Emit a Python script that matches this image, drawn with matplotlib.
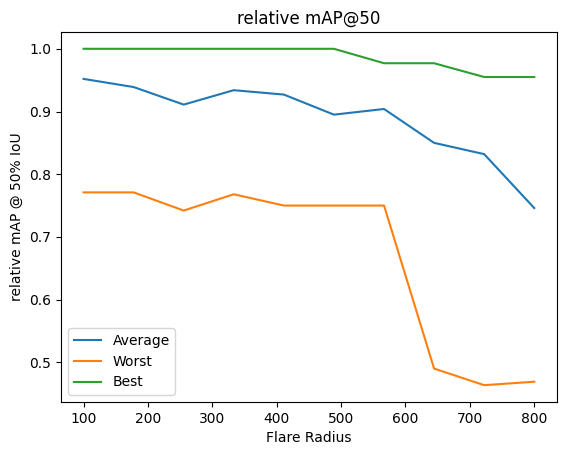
import matplotlib
matplotlib.use("Agg")
import matplotlib.pyplot as plt

# flare radius values
radius = [100, 177.8, 255.6, 333.3, 411.1, 488.9, 566.7, 644.4, 722.2, 800]

# relative mAP@50 per radius
average = [0.952, 0.939, 0.911, 0.934, 0.927, 0.895, 0.904, 0.850, 0.832, 0.746]
worst = [0.771, 0.771, 0.742, 0.768, 0.750, 0.750, 0.750, 0.490, 0.4635, 0.469]
best = [1.0, 1.0, 1.0, 1.0, 1.0, 1.0, 0.977, 0.977, 0.955, 0.955]

fig, ax = plt.subplots(figsize=(5.67, 4.55), dpi=100)
ax.plot(radius, average, label="Average")
ax.plot(radius, worst, label="Worst")
ax.plot(radius, best, label="Best")
ax.set_title("relative mAP@50")
ax.set_xlabel("Flare Radius")
ax.set_ylabel("relative mAP @ 50% IoU")
ax.legend(loc="lower left")
plt.subplots_adjust(left=0.1076, right=0.982, top=0.9297, bottom=0.1165)
fig.savefig("out.png")
